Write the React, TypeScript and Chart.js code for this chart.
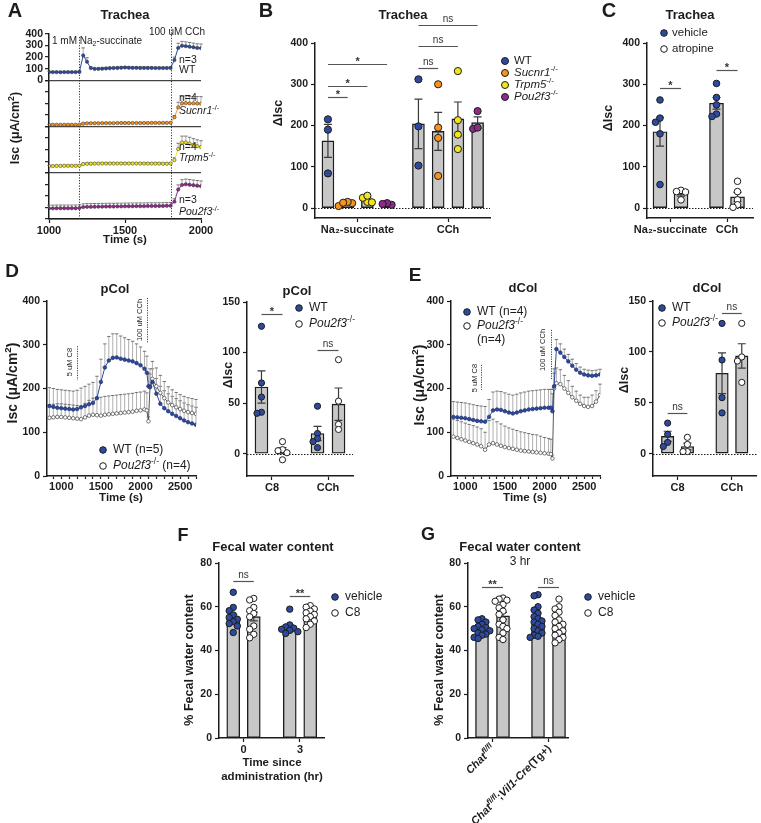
import React, { useEffect, useRef } from 'react';
import { Chart, registerables } from 'chart.js';

Chart.register(...registerables);

const FAMILY = '"Liberation Sans", Arial, Helvetica, sans-serif';
Chart.defaults.font.family = FAMILY;
Chart.defaults.color = '#1c1c1c';

/* ============================ DATA ============================ */
// ---- Panel A: Trachea Isc traces (µA/cm²) ----
const aTime = [1000, 1025, 1050, 1075, 1100, 1125, 1150, 1175, 1200, 1225, 1250, 1275, 1300, 1325, 1350, 1375, 1400, 1425, 1450, 1475, 1500, 1525, 1550, 1575, 1600, 1625, 1650, 1675, 1700, 1725, 1750, 1775, 1800, 1825, 1850, 1875, 1900, 1925, 1950, 1975, 2000];
const aWT = [70, 70, 70, 69, 70, 70, 70, 70, 72, 215, 160, 105, 98, 98, 100, 102, 104, 105, 106, 108, 110, 108, 107, 107, 106, 106, 106, 106, 105, 105, 105, 105, 106, 175, 280, 298, 295, 290, 285, 280, 278];
const aWTSem = [8, 8, 8, 8, 8, 8, 8, 8, 10, 65, 35, 12, 10, 10, 10, 10, 10, 10, 10, 10, 10, 10, 10, 10, 10, 10, 10, 10, 10, 10, 10, 10, 12, 25, 40, 38, 37, 37, 36, 35, 35];
const aSucnr1 = [15, 15, 15, 15, 15, 15, 15, 15, 16, 24, 27, 28, 28, 28, 29, 29, 29, 29, 30, 30, 30, 30, 30, 30, 30, 30, 30, 31, 31, 31, 31, 31, 32, 80, 165, 200, 202, 200, 200, 199, 198];
const aSucnr1Sem = [4, 4, 4, 4, 4, 4, 4, 4, 4, 5, 5, 5, 5, 5, 5, 5, 5, 5, 5, 5, 5, 5, 5, 5, 5, 5, 5, 5, 5, 5, 5, 5, 5, 15, 45, 62, 62, 60, 60, 60, 60];
const aTrpm5 = [58, 58, 59, 59, 60, 60, 60, 60, 61, 75, 78, 78, 79, 79, 80, 80, 80, 80, 80, 80, 80, 80, 80, 80, 80, 80, 79, 79, 79, 79, 78, 78, 80, 110, 205, 262, 262, 252, 240, 230, 222];
const aTrpm5Sem = [6, 6, 6, 6, 6, 6, 6, 6, 6, 7, 7, 7, 7, 7, 7, 7, 7, 7, 7, 7, 7, 7, 7, 7, 7, 7, 7, 7, 7, 7, 7, 7, 7, 20, 50, 55, 55, 55, 55, 55, 55];
const aPou2f3 = [92, 92, 93, 93, 93, 93, 93, 93, 95, 103, 105, 105, 106, 107, 107, 108, 108, 108, 109, 109, 110, 110, 110, 111, 111, 111, 112, 112, 112, 113, 113, 114, 115, 150, 255, 295, 300, 296, 292, 288, 284];
const aPou2f3Sem = [28, 28, 28, 28, 28, 28, 28, 28, 28, 28, 28, 28, 28, 28, 28, 28, 28, 28, 28, 28, 28, 28, 28, 28, 28, 28, 28, 28, 28, 28, 28, 28, 28, 25, 40, 45, 45, 45, 45, 45, 45];
const aXTicks = [1000, 1500, 2000];
const aYTicks = [0, 100, 200, 300, 400];
const aEvents = [1200, 1800];

// ---- Panel B: Trachea ΔIsc by genotype ----
const bGroups = ['Na₂-succinate', 'CCh'];
const bYTicks = [0, 100, 200, 300, 400];
const bWTMean = [163, 204];
const bWTSem = [40, 60];
const bWTPts = [[215, 190, 84], [312, 198, 103]];
const bSucnr1Mean = [11, 186];
const bSucnr1Sem = [2, 46];
const bSucnr1Pts = [[5, 12, 15, 13], [300, 195, 170, 78]];
const bTrpm5Mean = [21, 216];
const bTrpm5Sem = [4, 41];
const bTrpm5Pts = [[15, 25, 30, 14], [332, 213, 178, 143]];
const bPou2f3Mean = [10, 207];
const bPou2f3Sem = [1.5, 14];
const bPou2f3Pts = [[8, 12, 10], [235, 192, 195]];
const bSig = [
  { a: [0, 0], b: [0, 1], y: 268, label: '*' },
  { a: [0, 0], b: [0, 2], y: 297, label: '*' },
  { a: [0, 0], b: [0, 3], y: 348, label: '*' },
  { a: [1, 0], b: [1, 1], y: 340, label: 'ns' },
  { a: [1, 0], b: [1, 2], y: 392, label: 'ns' },
  { a: [1, 0], b: [1, 3], y: 443, label: 'ns' },
];

// ---- Panel C: Trachea vehicle vs atropine ----
const cGroups = ['Na₂-succinate', 'CCh'];
const cVehicleMean = [185, 254];
const cVehicleSem = [35, 14];
const cVehiclePts = [[262, 218, 208, 180, 57], [302, 268, 250, 228, 222]];
const cAtropineMean = [35, 27];
const cAtropineSem = [6, 11];
const cAtropinePts = [[43, 40, 39, 20], [65, 40, 20, 8, 2]];
const cSig = [
  { a: [0, 0], b: [0, 1], y: 290, label: '*' },
  { a: [1, 0], b: [1, 1], y: 335, label: '*' },
];

// ---- Panels D/E: colon Isc traces ----
const colTime = [850, 900, 950, 1000, 1050, 1100, 1150, 1200, 1250, 1300, 1350, 1400, 1450, 1500, 1550, 1600, 1650, 1700, 1750, 1800, 1850, 1900, 1950, 2000, 2050, 2080, 2100, 2120, 2150, 2200, 2250, 2300, 2350, 2400, 2450, 2500, 2550, 2600, 2650, 2700];
const colXTicks = [900, 1000, 1100, 1200, 1300, 1400, 1500, 1600, 1700, 1800, 1900, 2000, 2100, 2200, 2300, 2400, 2500, 2600, 2700];
const colXLabels = [1000, 1500, 2000, 2500];
const colYTicks = [0, 100, 200, 300, 400];
const colEvents = [1200, 2080];
const pcolWT = [160, 158, 156, 155, 154, 153, 152, 153, 157, 160, 164, 167, 178, 215, 248, 264, 270, 271, 268, 266, 264, 262, 258, 253, 245, 236, 205, 203, 215, 188, 165, 155, 148, 142, 137, 132, 127, 123, 120, 117];
const pcolWTSem = [42, 42, 42, 42, 42, 42, 42, 43, 44, 45, 46, 47, 50, 52, 54, 55, 55, 54, 52, 50, 48, 46, 44, 42, 40, 38, 30, 30, 30, 35, 40, 40, 40, 40, 40, 40, 40, 40, 40, 40];
const pcolPou2f3 = [133, 134, 135, 135, 134, 133, 132, 131, 130, 134, 138, 140, 139, 138, 140, 141, 142, 143, 144, 145, 146, 147, 149, 150, 152, 150, 125, 205, 222, 205, 190, 178, 168, 162, 157, 153, 149, 146, 144, 142];
const pcolPou2f3Sem = [30, 30, 30, 30, 30, 30, 30, 30, 30, 32, 35, 38, 40, 42, 42, 42, 42, 42, 42, 42, 42, 42, 42, 42, 42, 40, 10, 40, 40, 42, 40, 38, 36, 35, 34, 33, 33, 33, 33, 33];
const dcolWT = [135, 134, 133, 132, 130, 128, 126, 125, 124, 135, 150, 152, 151, 148, 145, 143, 145, 148, 150, 152, 153, 154, 155, 156, 156, 156, 148, 205, 290, 282, 272, 262, 252, 243, 236, 232, 230, 229, 230, 232];
const dcolWTSem = [35, 35, 35, 35, 35, 35, 35, 35, 35, 40, 42, 42, 42, 42, 42, 42, 42, 42, 42, 42, 42, 42, 42, 42, 42, 42, 40, 40, 22, 20, 18, 16, 15, 14, 13, 12, 12, 12, 12, 12];
const dcolPou2f3 = [90, 87, 84, 81, 78, 75, 72, 68, 60, 72, 75, 72, 69, 66, 64, 62, 60, 58, 57, 56, 55, 54, 53, 52, 51, 50, 40, 200, 212, 210, 200, 190, 180, 172, 165, 160, 158, 160, 170, 185];
const dcolPou2f3Sem = [40, 40, 40, 40, 40, 40, 40, 40, 40, 55, 55, 52, 50, 48, 46, 45, 44, 43, 42, 41, 40, 40, 38, 36, 35, 34, 8, 35, 35, 33, 30, 28, 25, 22, 20, 20, 22, 25, 25, 25];

// ---- Panel D/E bars: ΔIsc ----
const colGroups = ['C8', 'CCh'];
const colBarYTicks = [0, 50, 100, 150];
const dWTMean = [66, 20];
const dWTSem = [16, 7];
const dWTPts = [[126, 70, 56, 41, 40], [47, 20, 15, 12, 6]];
const dPou2f3Mean = [3, 49];
const dPou2f3Sem = [3, 16];
const dPou2f3Pts = [[12, 4, 3, 1, -6], [93, 52, 29, 24]];
const dSig = [
  { a: [0, 0], b: [0, 1], y: 138, label: '*' },
  { a: [1, 0], b: [1, 1], y: 103, label: 'ns' },
];
const eWTMean = [17, 79];
const eWTSem = [5, 20];
const eWTPts = [[30, 19, 11, 7], [128, 92, 55, 40]];
const ePou2f3Mean = [7, 96];
const ePou2f3Sem = [3.3, 12];
const ePou2f3Pts = [[16, 9, 2, 2], [128, 95, 91, 70]];
const eSig = [
  { a: [0, 0], b: [0, 1], y: 40, label: 'ns' },
  { a: [1, 0], b: [1, 1], y: 138, label: 'ns' },
];

// ---- Panel F: fecal water content vs time ----
const fGroups = ['0', '3'];
const fecalYTicks = [0, 20, 40, 60, 80];
const fVehicleMean = [55, 50.5];
const fVehicleSem = [1.6, 1.2];
const fVehiclePts = [[66.6, 59.7, 58.2, 56.3, 55.1, 54.3, 53.2, 52.3, 51.2, 48.2], [58.9, 51.7, 50.8, 50.2, 49.7, 49.2, 48.6, 47.8]];
const fC8Mean = [55.5, 56];
const fC8Sem = [2, 1];
const fC8Pts = [[63.8, 63.1, 59.7, 58.2, 56.9, 55.4, 51.2, 49.7, 47.4, 45.8], [60.5, 59.8, 59, 58, 57.2, 56.5, 55.5, 54.5, 53.5, 52, 50.5]];
const fSig = [
  { a: [0, 0], b: [0, 1], y: 71.8, label: 'ns' },
  { a: [1, 0], b: [1, 1], y: 64.9, label: '**' },
];

// ---- Panel G: fecal water content by genotype (3 hr) ----
const gGroups = ['Chat fl/fl', 'Chat fl/fl;Vil1-Cre(Tg+)'];
const gVehicleMean = [49.8, 53.6];
const gVehicleSem = [0.8, 1.3];
const gVehiclePts = [[54.5, 54, 53, 52, 51, 50.5, 50, 49.5, 49, 48, 47.5, 47, 46, 45.5], [65.5, 65, 60, 58.5, 57, 55.5, 54.5, 53.5, 53, 52, 51, 50, 49, 48, 47, 46.5, 46]];
const gC8Mean = [55.8, 51.8];
const gC8Sem = [1.6, 1.3];
const gC8Pts = [[64, 63.5, 63, 62.5, 61, 59.5, 58, 56.5, 54, 52, 51, 50, 48, 46, 45], [63.5, 60, 59, 57.5, 56, 54, 53, 52, 51, 50, 49, 48, 47, 46, 45, 43.5]];
const gSig = [
  { a: [0, 0], b: [0, 1], y: 68.9, label: '**' },
  { a: [1, 0], b: [1, 1], y: 68.9, label: 'ns' },
];

/* ============================ STYLE ============================ */
const BLUE = '#2e4a9e';
const ORANGE = '#f7931e';
const YELLOW = '#f3e51b';
const PURPLE = '#8e2a8c';
const WHITE = '#ffffff';
const INK = '#1c1c1c';
const BARFILL = '#c7c7c7';
const yTickFont = { size: 10.5, weight: 'bold' };
const xTickFont = { size: 11, weight: 'bold' };

type Part = { t: string; it?: boolean; sup?: boolean; sub?: boolean };
type Item = any;

const geno = (name: string): Part[] => [{ t: name, it: true }, { t: '-/-', sup: true }];
const iscParts: Part[] = [{ t: 'Isc (μA/cm' }, { t: '2', sup: true }, { t: ')' }];
const T = (x: number, y: number, s: any, size: number, o: any = {}) => ({ k: 'text', x, y, s, size, ...o });
const Dot = (x: number, y: number, fill: string, r = 3.4) => ({ k: 'dot', x, y, r, fill });

function drawText(ctx: CanvasRenderingContext2D, it: any) {
  const parts: Part[] = typeof it.s === 'string' ? [{ t: it.s }] : it.s;
  const size = it.size;
  ctx.save();
  ctx.translate(it.x, it.y);
  if (it.rot) ctx.rotate((it.rot * Math.PI) / 180);
  const segs = parts.map((p) => {
    const sz = p.sup || p.sub ? size * 0.7 : size;
    const italic = p.it || it.italic;
    const font = `${italic ? 'italic ' : ''}${it.bold ? 'bold ' : ''}${sz}px ${FAMILY}`;
    ctx.font = font;
    return { t: p.t, font, w: ctx.measureText(p.t).width, dy: p.sup ? -size * 0.33 : p.sub ? size * 0.28 : 0 };
  });
  const total = segs.reduce((a, s) => a + s.w, 0);
  let x = it.align === 'center' ? -total / 2 : it.align === 'right' ? -total : 0;
  ctx.fillStyle = it.color || INK;
  ctx.textBaseline = 'middle';
  ctx.textAlign = 'left';
  segs.forEach((s) => {
    ctx.font = s.font;
    ctx.fillText(s.t, x, s.dy);
    x += s.w;
  });
  ctx.restore();
}

function drawItem(ctx: CanvasRenderingContext2D, it: Item) {
  if (it.k === 'text') drawText(ctx, it);
  else if (it.k === 'dot') {
    ctx.save();
    ctx.beginPath();
    ctx.arc(it.x, it.y, it.r, 0, Math.PI * 2);
    ctx.fillStyle = it.fill;
    ctx.fill();
    ctx.lineWidth = 1;
    ctx.strokeStyle = INK;
    ctx.stroke();
    ctx.restore();
  }
}

function makeDecor(rect: any, items: Item[], under?: any, over?: any) {
  return {
    id: 'decor',
    beforeDatasetsDraw(chart: any) {
      if (!under) return;
      const ctx = chart.ctx;
      ctx.save();
      under(chart, ctx);
      ctx.restore();
    },
    afterDraw(chart: any) {
      const ctx = chart.ctx;
      if (over) {
        ctx.save();
        over(chart, ctx);
        ctx.restore();
      }
      ctx.save();
      ctx.translate(-rect.left, -rect.top);
      items.forEach((it) => drawItem(ctx, it));
      ctx.restore();
    },
  };
}

const errPlugin = {
  id: 'errbars',
  beforeDatasetsDraw(chart: any) {
    const ctx = chart.ctx;
    chart.data.datasets.forEach((ds: any, di: number) => {
      if (!ds.errUp) return;
      const meta = chart.getDatasetMeta(di);
      const ys = chart.scales[meta.yAxisID];
      ctx.save();
      ctx.lineWidth = 0.8;
      meta.data.forEach((el: any, i: number) => {
        const v = ds.data[i].y;
        const e = ds.errUp[i];
        const y1 = ys.getPixelForValue(v + e);
        ctx.strokeStyle = '#9a9a9a';
        ctx.beginPath();
        ctx.moveTo(el.x, el.y);
        ctx.lineTo(el.x, y1);
        ctx.stroke();
        ctx.strokeStyle = '#555';
        ctx.beginPath();
        ctx.moveTo(el.x - 1.7, y1);
        ctx.lineTo(el.x + 1.7, y1);
        ctx.stroke();
      });
      ctx.restore();
    });
  },
  afterDatasetDraw(chart: any, args: any) {
    const ds: any = chart.data.datasets[args.index];
    if (!ds.sem) return;
    const meta = args.meta;
    const ys = chart.scales[meta.yAxisID];
    const ctx = chart.ctx;
    const hw = ds.capHalf || 4;
    ctx.save();
    ctx.strokeStyle = '#3a3a3a';
    ctx.lineWidth = 1.2;
    meta.data.forEach((el: any, i: number) => {
      const m = ds.data[i].y;
      const s = ds.sem[i];
      const yT = ys.getPixelForValue(m + s);
      const yB = ys.getPixelForValue(m - s);
      ctx.beginPath();
      ctx.moveTo(el.x, yB);
      ctx.lineTo(el.x, yT);
      ctx.moveTo(el.x - hw, yT);
      ctx.lineTo(el.x + hw, yT);
      ctx.moveTo(el.x - hw, yB);
      ctx.lineTo(el.x + hw, yB);
      ctx.stroke();
    });
    ctx.restore();
  },
};

// horizontal placement of overlapping dots (dot-plot style), in x-axis units
function swarm(vals: number[], dy: number, dx: number): number[] {
  const order = vals.map((_, i) => i).sort((a, b) => vals[b] - vals[a]);
  const off = vals.map(() => 0);
  const placed: { v: number; o: number }[] = [];
  const cands = [0, -1, 1, -2, 2];
  for (const i of order) {
    let chosen = 0;
    let best = -1;
    for (const c of cands) {
      const o = c * dx;
      const d = placed.length ? Math.min(...placed.map((p) => Math.hypot((p.v - vals[i]) / dy, (p.o - o) / dx))) : 9;
      if (d >= 1) {
        chosen = o;
        best = 9;
        break;
      }
      if (d > best) {
        best = d;
        chosen = o;
      }
    }
    off[i] = chosen;
    placed.push({ v: vals[i], o: chosen });
  }
  return off;
}

const common = {
  responsive: false,
  animation: false,
  devicePixelRatio: 1,
  events: [],
  plugins: { legend: { display: false }, tooltip: { enabled: false }, title: { display: false } },
};

const pad = (rect: any, area: any) => ({ left: 0, top: area.t - rect.top, right: rect.left + rect.w - area.r, bottom: 0 });

function yAxis(min: number, max: number, ticks: number[], width: number, extra: any = {}) {
  return {
    type: 'linear',
    min,
    max,
    afterBuildTicks: (s: any) => {
      s.ticks = ticks.map((v) => ({ value: v }));
    },
    afterFit: (s: any) => {
      s.width = width;
      s.paddingTop = 0;
      s.paddingBottom = 0;
      s.paddingLeft = 0;
      s.paddingRight = 0;
    },
    ticks: { callback: (v: any) => String(v), font: yTickFont, color: INK, padding: 3, autoSkip: false },
    grid: { drawOnChartArea: false, drawTicks: true, tickLength: 4, tickColor: INK, tickWidth: 1.2 },
    border: { display: true, color: INK, width: 1.5 },
    ...extra,
  };
}

function xCat(min: number, max: number, labels: string[], height: number, hide = false) {
  return {
    type: 'linear',
    min,
    max,
    offset: false,
    afterBuildTicks: (s: any) => {
      s.ticks = labels.map((_, i) => ({ value: i }));
    },
    afterFit: (s: any) => {
      s.height = height;
      s.paddingLeft = 0;
      s.paddingRight = 0;
      s.paddingTop = 0;
      s.paddingBottom = 0;
    },
    ticks: { callback: (_v: any, i: number) => (hide ? '' : labels[i]), font: xTickFont, color: INK, padding: 1, autoSkip: false, maxRotation: 0, minRotation: 0 },
    grid: { drawOnChartArea: false, drawTicks: true, tickLength: 4, tickColor: INK, tickWidth: 1.2, offset: false },
    border: { display: true, color: INK, width: 1.5 },
  };
}

function xNum(min: number, max: number, ticks: number[], labels: number[], height: number, tickLen: number) {
  return {
    type: 'linear',
    min,
    max,
    offset: false,
    afterBuildTicks: (s: any) => {
      s.ticks = ticks.map((v) => ({ value: v }));
    },
    afterFit: (s: any) => {
      s.height = height;
      s.paddingLeft = 0;
      s.paddingRight = 0;
    },
    ticks: { callback: (v: any) => (labels.indexOf(v) >= 0 ? String(v) : ''), font: xTickFont, color: INK, padding: 1, autoSkip: false, maxRotation: 0, minRotation: 0 },
    grid: { drawOnChartArea: false, drawTicks: true, tickLength: tickLen, tickColor: INK, tickWidth: 1.2 },
    border: { display: true, color: INK, width: 1.5 },
  };
}

function barConfig(spec: any) {
  const { rect, area, xmin, xmax, ymin, ymax, yTicks, labels, series, spacing, barW, r, dy, dx, sigs, items, cap, hideX, over } = spec;
  const n = series.length;
  const slot = (g: number, s: number) => g + (s - (n - 1) / 2) * spacing;
  const datasets: any[] = [];
  series.forEach((se: any, si: number) => {
    datasets.push({
      type: 'bar',
      order: 2,
      grouped: false,
      data: se.means.map((m: number, g: number) => ({ x: slot(g, si), y: m })),
      sem: se.sems,
      capHalf: cap,
      backgroundColor: BARFILL,
      borderColor: INK,
      borderWidth: 1.4,
      borderSkipped: false,
      barThickness: barW,
      maxBarThickness: barW,
    });
  });
  series.forEach((se: any, si: number) => {
    const pts: any[] = [];
    se.pts.forEach((arr: number[], g: number) => {
      const off = swarm(arr, dy, dx);
      arr.forEach((v, k) => pts.push({ x: slot(g, si) + off[k], y: v }));
    });
    datasets.push({
      type: 'scatter',
      order: 1,
      data: pts,
      showLine: false,
      clip: false,
      pointRadius: r,
      pointHoverRadius: r,
      pointBackgroundColor: se.fill,
      pointBorderColor: INK,
      pointBorderWidth: 1,
    });
  });
  const under = (chart: any, ctx: CanvasRenderingContext2D) => {
    if (ymin >= 0) return;
    const ys = chart.scales.y;
    const y0 = Math.round(ys.getPixelForValue(0)) + 0.5;
    ctx.setLineDash([1.5, 1.5]);
    ctx.strokeStyle = INK;
    ctx.lineWidth = 1;
    ctx.beginPath();
    ctx.moveTo(chart.chartArea.left, y0);
    ctx.lineTo(chart.chartArea.right, y0);
    ctx.stroke();
  };
  const overAll = (chart: any, ctx: CanvasRenderingContext2D) => {
    const xs = chart.scales.x;
    const ys = chart.scales.y;
    sigs.forEach((sg: any) => {
      const x1 = xs.getPixelForValue(slot(sg.a[0], sg.a[1]));
      const x2 = xs.getPixelForValue(slot(sg.b[0], sg.b[1]));
      const y = Math.round(ys.getPixelForValue(sg.y)) + 0.5;
      ctx.setLineDash([]);
      ctx.strokeStyle = '#555';
      ctx.lineWidth = 1.2;
      ctx.beginPath();
      ctx.moveTo(x1, y);
      ctx.lineTo(x2, y);
      ctx.stroke();
      ctx.fillStyle = '#333';
      ctx.textAlign = 'center';
      ctx.textBaseline = 'alphabetic';
      if (sg.label === 'ns') {
        ctx.font = `10px ${FAMILY}`;
        ctx.fillText('ns', (x1 + x2) / 2, y - 3.5);
      } else {
        ctx.font = `bold 11px ${FAMILY}`;
        ctx.fillText(sg.label, (x1 + x2) / 2, y + 0.5);
      }
    });
    if (over) over(chart, ctx);
  };
  return {
    type: 'bar',
    data: { datasets },
    options: {
      ...common,
      layout: { padding: pad(rect, area) },
      scales: {
        x: xCat(xmin, xmax, labels, rect.top + rect.h - area.b, hideX),
        y: yAxis(ymin, ymax, yTicks, area.l - rect.left),
      },
    },
    plugins: [errPlugin, makeDecor(rect, items, under, overAll)],
  };
}

function traceConfig(spec: any) {
  const { rect, area, series, spans, items } = spec;
  const datasets = series.map((se: any) => ({
    type: 'line',
    order: se.order,
    data: colTime.map((t, i) => ({ x: t, y: se.vals[i] })),
    errUp: se.sem,
    borderColor: se.line,
    borderWidth: 1,
    pointRadius: 1.8,
    pointBackgroundColor: se.fill,
    pointBorderColor: se.edge,
    pointBorderWidth: 0.7,
    tension: 0,
  }));
  const under = (chart: any, ctx: CanvasRenderingContext2D) => {
    const xs = chart.scales.x;
    const ys = chart.scales.y;
    colEvents.forEach((t, i) => {
      const x = Math.round(xs.getPixelForValue(t)) + 0.5;
      ctx.setLineDash([1.2, 1.2]);
      ctx.strokeStyle = '#444';
      ctx.lineWidth = 1;
      ctx.beginPath();
      ctx.moveTo(x, ys.getPixelForValue(spans[i][1]));
      ctx.lineTo(x, ys.getPixelForValue(spans[i][0]));
      ctx.stroke();
    });
  };
  return {
    type: 'line',
    data: { datasets },
    options: {
      ...common,
      layout: { padding: pad(rect, area) },
      scales: {
        x: xNum(820, 2700, colXTicks, colXLabels, rect.top + rect.h - area.b, 3),
        y: yAxis(0, 400, colYTicks, area.l - rect.left),
      },
    },
    plugins: [errPlugin, makeDecor(rect, items, under)],
  };
}

/* ============================ PANELS ============================ */
function panelA() {
  const rect = { left: 0, top: 0, w: 250, h: 245 };
  const area = { l: 49, t: 34, r: 201, b: 219 };
  const rows = [
    { vals: aWT, sem: aWTSem, color: BLUE, axis: 'y0' },
    { vals: aSucnr1, sem: aSucnr1Sem, color: ORANGE, axis: 'y1' },
    { vals: aTrpm5, sem: aTrpm5Sem, color: YELLOW, axis: 'y2' },
    { vals: aPou2f3, sem: aPou2f3Sem, color: PURPLE, axis: 'y3' },
  ];
  const datasets = rows.map((r) => ({
    type: 'line',
    yAxisID: r.axis,
    data: aTime.map((t, i) => ({ x: t, y: r.vals[i] })),
    errUp: r.sem,
    borderColor: r.color,
    borderWidth: 1,
    pointRadius: 1.7,
    pointBackgroundColor: r.color,
    pointBorderColor: '#333',
    pointBorderWidth: 0.5,
  }));
  const yw = area.l - rect.left;
  const stacked = (weight: number, labelled: boolean) =>
    yAxis(0, 400, aYTicks, yw, {
      position: 'left',
      stack: 'trachea',
      stackWeight: 1,
      weight,
      ticks: { callback: (v: any) => (labelled ? String(v) : ''), font: yTickFont, color: INK, padding: 2, autoSkip: false },
      grid: {
        drawOnChartArea: true,
        drawTicks: true,
        tickLength: 4,
        tickColor: INK,
        tickWidth: 1.2,
        lineWidth: 1.3,
        color: (c: any) => (c.tick && c.tick.value === 0 ? '#444' : 'rgba(0,0,0,0)'),
      },
    });
  const items = [
    T(15, 11, 'A', 20, { bold: true, align: 'center' }),
    T(125, 15, 'Trachea', 13, { bold: true, align: 'center' }),
    T(16, 128, iscParts, 12.5, { bold: true, align: 'center', rot: -90 }),
    T(125, 240, 'Time (s)', 11.5, { bold: true, align: 'center' }),
    T(52, 41, [{ t: '1 mM Na' }, { t: '2', sub: true }, { t: '-succinate' }], 10),
    T(177, 32, '100 uM CCh', 10, { align: 'center' }),
    T(179, 60, 'n=3', 10.5),
    T(179, 70, 'WT', 10.5),
    T(179, 98, 'n=4', 10.5),
    T(179, 111, geno('Sucnr1'), 10.5),
    T(179, 147, 'n=4', 10.5),
    T(179, 158, geno('Trpm5'), 10.5),
    T(179, 200, 'n=3', 10.5),
    T(179, 212, geno('Pou2f3'), 10.5),
  ];
  const tops = [37, 27];
  const under = (chart: any, ctx: CanvasRenderingContext2D) => {
    const xs = chart.scales.x;
    aEvents.forEach((t, i) => {
      const x = Math.round(xs.getPixelForValue(t)) + 0.5;
      ctx.setLineDash([1.2, 1.5]);
      ctx.strokeStyle = '#333';
      ctx.lineWidth = 1;
      ctx.beginPath();
      ctx.moveTo(x, tops[i]);
      ctx.lineTo(x, chart.chartArea.bottom);
      ctx.stroke();
    });
  };
  return {
    rect,
    config: {
      type: 'line',
      data: { datasets },
      options: {
        ...common,
        layout: { padding: pad(rect, area) },
        scales: {
          x: xNum(1000, 2000, aXTicks, aXTicks, rect.top + rect.h - area.b, 4),
          y0: stacked(4, true),
          y1: stacked(3, false),
          y2: stacked(2, false),
          y3: stacked(1, false),
        },
      },
      plugins: [errPlugin, makeDecor(rect, items, under)],
    },
  };
}

function panelB() {
  const rect = { left: 250, top: 0, w: 330, h: 245 };
  const area = { l: 315, t: 43, r: 490, b: 218 };
  const items = [
    T(266, 11, 'B', 20, { bold: true, align: 'center' }),
    T(403, 15, 'Trachea', 13, { bold: true, align: 'center' }),
    T(279, 113, 'ΔIsc', 12.5, { bold: true, align: 'center', rot: -90 }),
    Dot(505, 61, BLUE, 3.5), T(514, 61, 'WT', 11.5),
    Dot(505, 73, ORANGE, 3.5), T(514, 73, geno('Sucnr1'), 11.5),
    Dot(505, 85, YELLOW, 3.5), T(514, 85, geno('Trpm5'), 11.5),
    Dot(505, 97, PURPLE, 3.5), T(514, 97, geno('Pou2f3'), 11.5),
  ];
  return {
    rect,
    config: barConfig({
      rect, area, xmin: -0.47, xmax: 1.464, ymin: -24, ymax: 400, yTicks: bYTicks, labels: bGroups,
      series: [
        { means: bWTMean, sems: bWTSem, pts: bWTPts, fill: BLUE },
        { means: bSucnr1Mean, sems: bSucnr1Sem, pts: bSucnr1Pts, fill: ORANGE },
        { means: bTrpm5Mean, sems: bTrpm5Sem, pts: bTrpm5Pts, fill: YELLOW },
        { means: bPou2f3Mean, sems: bPou2f3Sem, pts: bPou2f3Pts, fill: PURPLE },
      ],
      spacing: 0.218, barW: 12, r: 3.6, dy: 12, dx: 0.05, sigs: bSig, items, cap: 4,
    }),
  };
}

function panelC() {
  const rect = { left: 520, top: 0, w: 241, h: 245 };
  const area = { l: 647, t: 43, r: 753, b: 218 };
  const items = [
    T(609, 11, 'C', 20, { bold: true, align: 'center' }),
    T(690, 15, 'Trachea', 13, { bold: true, align: 'center' }),
    T(609, 118, 'ΔIsc', 12.5, { bold: true, align: 'center', rot: -90 }),
    Dot(664, 33, BLUE, 3.3), T(672, 33, 'vehicle', 11.5),
    Dot(664, 49, WHITE, 3.3), T(672, 49, 'atropine', 11.5),
  ];
  return {
    rect,
    config: barConfig({
      rect, area, xmin: -0.416, xmax: 1.46, ymin: -24, ymax: 400, yTicks: bYTicks, labels: cGroups,
      series: [
        { means: cVehicleMean, sems: cVehicleSem, pts: cVehiclePts, fill: BLUE },
        { means: cAtropineMean, sems: cAtropineSem, pts: cAtropinePts, fill: WHITE },
      ],
      spacing: 0.372, barW: 14, r: 3.3, dy: 12, dx: 0.08, sigs: cSig, items, cap: 4,
    }),
  };
}

function panelDTrace() {
  const rect = { left: 0, top: 250, w: 250, h: 265 };
  const area = { l: 47, t: 301, r: 196, b: 476 };
  const items = [
    T(12, 272, 'D', 19, { bold: true, align: 'center' }),
    T(115, 289, 'pCol', 13, { bold: true, align: 'center' }),
    T(13, 383, iscParts, 14, { bold: true, align: 'center', rot: -90 }),
    T(121, 498, 'Time (s)', 11.5, { bold: true, align: 'center' }),
    Dot(103, 450, BLUE, 3.3), T(113, 450, 'WT (n=5)', 12),
    Dot(103, 466, WHITE, 3.3), T(113, 466, [...geno('Pou2f3'), { t: ' (n=4)' }], 12),
    T(70, 362, '5 uM C8', 7.5, { align: 'center', rot: -90 }),
    T(140, 320, '100 uM CCh', 7.5, { align: 'center', rot: -90 }),
  ];
  return {
    rect,
    config: traceConfig({
      rect, area, items,
      spans: [[219, 297], [304, 407]],
      series: [
        { vals: pcolWT, sem: pcolWTSem, line: BLUE, fill: BLUE, edge: '#1b2f6b', order: 1 },
        { vals: pcolPou2f3, sem: pcolPou2f3Sem, line: '#555', fill: WHITE, edge: '#444', order: 2 },
      ],
    }),
  };
}

function panelDBar() {
  const rect = { left: 200, top: 250, w: 180, h: 265 };
  const area = { l: 247, t: 302, r: 353, b: 476 };
  const items = [
    T(297, 291, 'pCol', 13, { bold: true, align: 'center' }),
    T(229, 375, 'ΔIsc', 12.5, { bold: true, align: 'center', rot: -90 }),
    Dot(299, 308, BLUE, 3.3), T(309, 308, 'WT', 12),
    Dot(299, 324, WHITE, 3.3), T(309, 324, geno('Pou2f3'), 12),
  ];
  return {
    rect,
    config: barConfig({
      rect, area, xmin: -0.446, xmax: 1.446, ymin: -22, ymax: 150, yTicks: colBarYTicks, labels: colGroups,
      series: [
        { means: dWTMean, sems: dWTSem, pts: dWTPts, fill: BLUE },
        { means: dPou2f3Mean, sems: dPou2f3Sem, pts: dPou2f3Pts, fill: WHITE },
      ],
      spacing: 0.375, barW: 13, r: 3.1, dy: 4.8, dx: 0.08, sigs: dSig, items, cap: 4,
    }),
  };
}

function panelETrace() {
  const rect = { left: 380, top: 250, w: 250, h: 265 };
  const area = { l: 451, t: 301, r: 600, b: 476 };
  const items = [
    T(415, 276, 'E', 19, { bold: true, align: 'center' }),
    T(523, 288, 'dCol', 13, { bold: true, align: 'center' }),
    T(420, 385, iscParts, 14, { bold: true, align: 'center', rot: -90 }),
    T(525, 498, 'Time (s)', 11.5, { bold: true, align: 'center' }),
    Dot(467, 312, BLUE, 3.3), T(477, 312, 'WT (n=4)', 12),
    Dot(467, 326, WHITE, 3.3), T(477, 326, geno('Pou2f3'), 12),
    T(477, 340, '(n=4)', 12),
    T(475, 378, '5 uM C8', 7.5, { align: 'center', rot: -90 }),
    T(543, 350, '100 uM CCh', 7.5, { align: 'center', rot: -90 }),
  ];
  return {
    rect,
    config: traceConfig({
      rect, area, items,
      spans: [[197, 254], [219, 334]],
      series: [
        { vals: dcolWT, sem: dcolWTSem, line: BLUE, fill: BLUE, edge: '#1b2f6b', order: 1 },
        { vals: dcolPou2f3, sem: dcolPou2f3Sem, line: '#555', fill: WHITE, edge: '#444', order: 2 },
      ],
    }),
  };
}

function panelEBar() {
  const rect = { left: 600, top: 250, w: 161, h: 265 };
  const area = { l: 653, t: 301, r: 761, b: 476 };
  const items = [
    T(707, 288, 'dCol', 13, { bold: true, align: 'center' }),
    T(625, 380, 'ΔIsc', 12.5, { bold: true, align: 'center', rot: -90 }),
    Dot(662, 308, BLUE, 3.3), T(672, 308, 'WT', 12),
    Dot(662, 323, WHITE, 3.3), T(672, 323, geno('Pou2f3'), 12),
  ];
  return {
    rect,
    config: barConfig({
      rect, area, xmin: -0.451, xmax: 1.46, ymin: -22, ymax: 150, yTicks: colBarYTicks, labels: colGroups,
      series: [
        { means: eWTMean, sems: eWTSem, pts: eWTPts, fill: BLUE },
        { means: ePou2f3Mean, sems: ePou2f3Sem, pts: ePou2f3Pts, fill: WHITE },
      ],
      spacing: 0.363, barW: 12.5, r: 3.1, dy: 4.8, dx: 0.08, sigs: eSig, items, cap: 4,
    }),
  };
}

function panelF() {
  const rect = { left: 170, top: 520, w: 230, h: 303 };
  const area = { l: 219, t: 563, r: 324, b: 738 };
  const items = [
    T(183, 536, 'F', 18, { bold: true, align: 'center' }),
    T(273, 547, 'Fecal water content', 13, { bold: true, align: 'center' }),
    T(190, 660, '% Fecal water content', 12.5, { bold: true, align: 'center', rot: -90 }),
    T(272, 763, 'Time since', 11.5, { bold: true, align: 'center' }),
    T(272, 777, 'administration (hr)', 11.5, { bold: true, align: 'center' }),
    Dot(335, 597, BLUE, 3.3), T(345, 597, 'vehicle', 12),
    Dot(335, 613, WHITE, 3.3), T(345, 613, 'C8', 12),
  ];
  return {
    rect,
    config: barConfig({
      rect, area, xmin: -0.434, xmax: 1.425, ymin: 0, ymax: 80, yTicks: fecalYTicks, labels: fGroups,
      series: [
        { means: fVehicleMean, sems: fVehicleSem, pts: fVehiclePts, fill: BLUE },
        { means: fC8Mean, sems: fC8Sem, pts: fC8Pts, fill: WHITE },
      ],
      spacing: 0.363, barW: 13, r: 3.2, dy: 2.3, dx: 0.072, sigs: fSig, items, cap: 4,
    }),
  };
}

function panelG() {
  const rect = { left: 400, top: 520, w: 361, h: 303 };
  const area = { l: 468, t: 563, r: 568, b: 738 };
  const gLabelParts: Part[][] = [
    [{ t: 'Chat', it: true }, { t: 'fl/fl', sup: true, it: true }],
    [{ t: 'Chat', it: true }, { t: 'fl/fl', sup: true, it: true }, { t: ';' }, { t: 'Vil1-Cre', it: true }, { t: '(Tg+)' }],
  ];
  const items = [
    T(428, 535, 'G', 18, { bold: true, align: 'center' }),
    T(520, 547, 'Fecal water content', 13, { bold: true, align: 'center' }),
    T(520, 562, '3 hr', 12, { align: 'center' }),
    T(440, 660, '% Fecal water content', 12.5, { bold: true, align: 'center', rot: -90 }),
    Dot(588, 597, BLUE, 3.3), T(598, 597, 'vehicle', 12),
    Dot(588, 613, WHITE, 3.3), T(598, 613, 'C8', 12),
  ];
  const over = (chart: any, ctx: CanvasRenderingContext2D) => {
    const xs = chart.scales.x;
    const yb = chart.chartArea.bottom;
    gLabelParts.forEach((parts, i) => {
      drawText(ctx, { x: xs.getPixelForValue(i) + 1, y: yb + 9, s: parts, size: 11, bold: true, align: 'right', rot: -45 });
    });
  };
  return {
    rect,
    config: barConfig({
      rect, area, xmin: -0.4375, xmax: 1.348, ymin: 0, ymax: 80, yTicks: fecalYTicks, labels: gGroups, hideX: true,
      series: [
        { means: gVehicleMean, sems: gVehicleSem, pts: gVehiclePts, fill: BLUE },
        { means: gC8Mean, sems: gC8Sem, pts: gC8Pts, fill: WHITE },
      ],
      spacing: 0.375, barW: 13, r: 3.2, dy: 2.3, dx: 0.07, sigs: gSig, items, cap: 4, over,
    }),
  };
}

const PANELS = [panelA, panelB, panelC, panelDTrace, panelDBar, panelETrace, panelEBar, panelF, panelG].map((f) => f());

export default function App() {
  const refs = useRef<(HTMLCanvasElement | null)[]>([]);
  useEffect(() => {
    document.body.style.margin = '0';
    const charts = PANELS.map((p, i) => new Chart(refs.current[i] as HTMLCanvasElement, p.config as any));
    return () => charts.forEach((c) => c.destroy());
  }, []);
  return (
    <div style={{ position: 'relative', width: 761, height: 823, background: '#fff', overflow: 'hidden' }}>
      {PANELS.map((p, i) => (
        <canvas
          key={i}
          ref={(el) => {
            refs.current[i] = el;
          }}
          width={p.rect.w}
          height={p.rect.h}
          style={{ position: 'absolute', left: p.rect.left, top: p.rect.top, width: p.rect.w, height: p.rect.h }}
        />
      ))}
    </div>
  );
}
